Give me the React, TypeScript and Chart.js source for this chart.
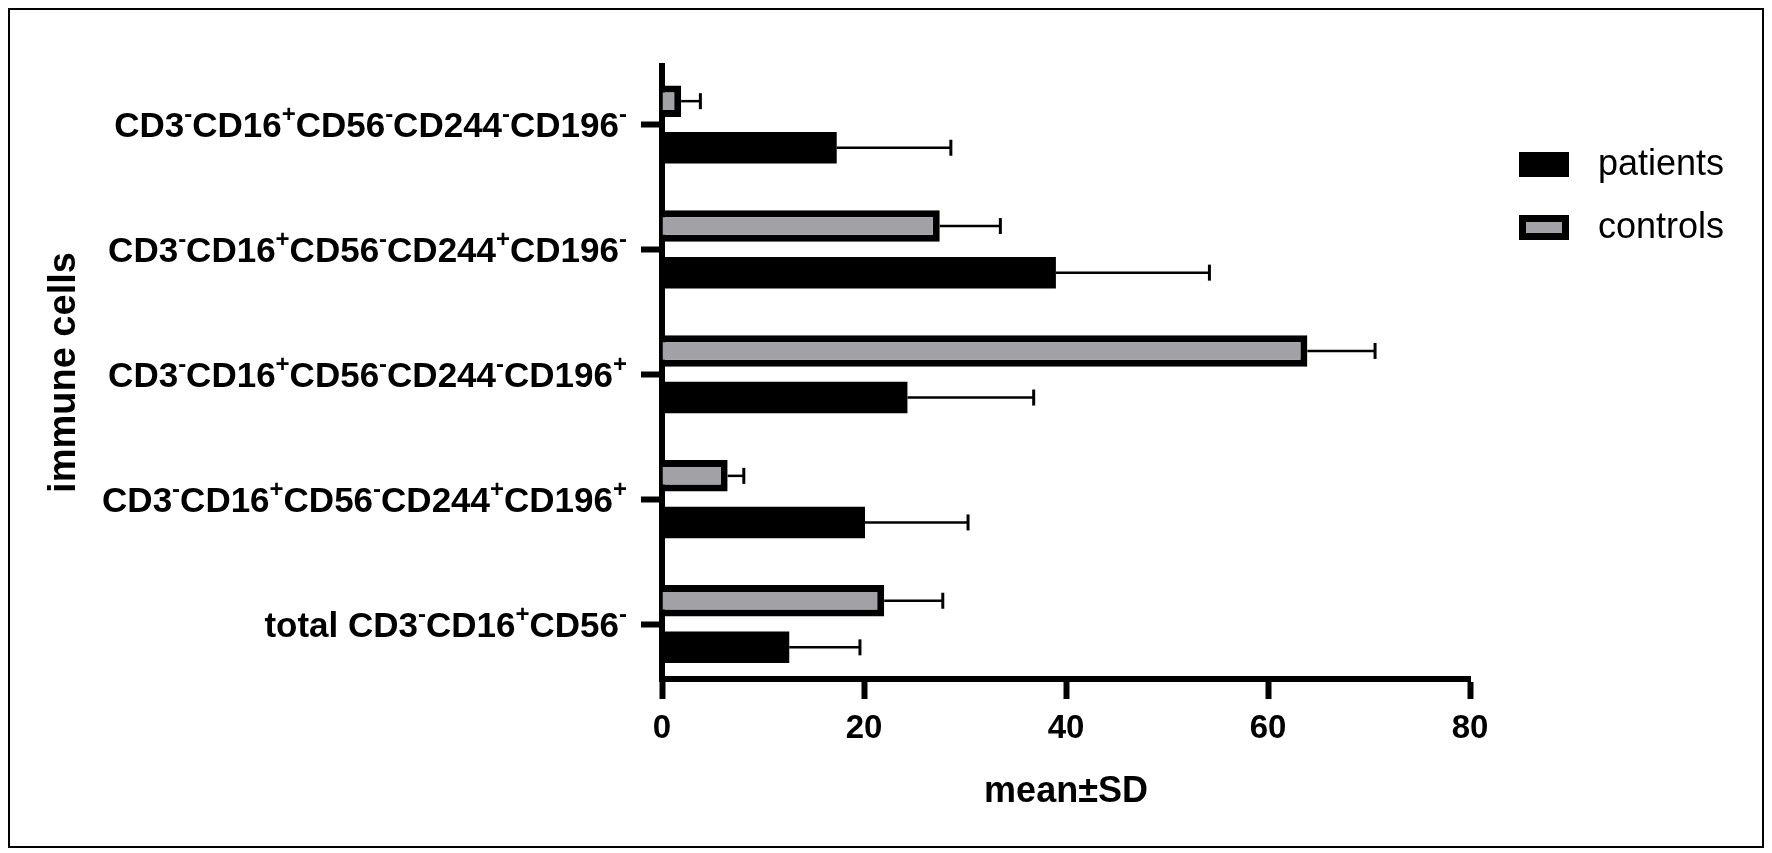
import React, { useEffect, useRef } from 'react';
import { Chart, registerables } from 'chart.js';
import type { Plugin } from 'chart.js';

Chart.register(...registerables);

// categories, top to bottom (superscripts kept as unicode)
const categories = [
  'CD3⁻CD16⁺CD56⁻CD244⁻CD196⁻',
  'CD3⁻CD16⁺CD56⁻CD244⁺CD196⁻',
  'CD3⁻CD16⁺CD56⁻CD244⁻CD196⁺',
  'CD3⁻CD16⁺CD56⁻CD244⁺CD196⁺',
  'total CD3⁻CD16⁺CD56⁻',
];
const patientsMean = [17.3, 39.0, 24.3, 20.1, 12.6];
const patientsSD = [11.3, 15.2, 12.5, 10.2, 7.0];
const controlsMean = [1.9, 27.5, 63.9, 6.5, 22.0];
const controlsSD = [1.9, 6.0, 6.7, 1.6, 5.8];
const xTicks = [0, 20, 40, 60, 80];

const FONT = "'Liberation Sans', Arial, Helvetica, sans-serif";
const GREY = '#a1a1a6';

const sdByDataset = [controlsSD, patientsSD];

// SD whiskers, only to the right of each bar
const errorBars: Plugin<'bar'> = {
  id: 'errorBars',
  afterDatasetsDraw(chart) {
    const { ctx } = chart;
    const x = chart.scales.x;
    ctx.save();
    ctx.strokeStyle = '#000';
    chart.data.datasets.forEach((ds, d) => {
      const meta = chart.getDatasetMeta(d);
      meta.data.forEach((el: any, i) => {
        const v = (ds.data[i] as any).x as number;
        const x0 = x.getPixelForValue(v);
        const x1 = x.getPixelForValue(v + sdByDataset[d][i]);
        ctx.lineWidth = 2.5;
        ctx.beginPath();
        ctx.moveTo(x0, el.y);
        ctx.lineTo(x1, el.y);
        ctx.stroke();
        ctx.lineWidth = 3;
        ctx.beginPath();
        ctx.moveTo(x1, el.y - 8);
        ctx.lineTo(x1, el.y + 8);
        ctx.stroke();
      });
    });
    ctx.restore();
  },
};

// y labels with real superscripts
const supLabels: Plugin<'bar'> = {
  id: 'supLabels',
  afterDraw(chart) {
    const { ctx } = chart;
    const y = chart.scales.y;
    const right = chart.chartArea.left - 35;
    const mainFont = `bold 35px ${FONT}`;
    const supFont = `bold 24px ${FONT}`;
    ctx.save();
    ctx.fillStyle = '#000';
    ctx.textBaseline = 'alphabetic';
    ctx.textAlign = 'left';
    categories.forEach((label, i) => {
      const runs: { t: string; sup: boolean }[] = [];
      for (const ch of label) {
        const sup = ch === '⁻' || ch === '⁺';
        const t = ch === '⁻' ? '-' : ch === '⁺' ? '+' : ch;
        const last = runs[runs.length - 1];
        if (last && last.sup === sup) last.t += t;
        else runs.push({ t, sup });
      }
      let w = 0;
      runs.forEach((r) => {
        ctx.font = r.sup ? supFont : mainFont;
        w += ctx.measureText(r.t).width;
      });
      const base = y.getPixelForValue(i) + 12.5;
      let cx = right - w;
      runs.forEach((r) => {
        ctx.font = r.sup ? supFont : mainFont;
        ctx.fillText(r.t, cx, r.sup ? base - 15 : base);
        cx += ctx.measureText(r.t).width;
      });
    });
    ctx.restore();
  },
};

// legend: patients first, then controls
const sideLegend: Plugin<'bar'> = {
  id: 'sideLegend',
  afterDraw(chart) {
    const { ctx, chartArea } = chart;
    const bx = chartArea.right + 49;
    const items = [
      { label: 'patients', fill: '#000', top: 142 },
      { label: 'controls', fill: GREY, top: 205 },
    ];
    ctx.save();
    items.forEach((it) => {
      ctx.fillStyle = '#000';
      ctx.fillRect(bx, it.top, 50, 25);
      if (it.fill !== '#000') {
        ctx.fillStyle = it.fill;
        ctx.fillRect(bx + 7, it.top + 7, 36, 11);
      }
      ctx.fillStyle = '#000';
      ctx.font = `36px ${FONT}`;
      ctx.textBaseline = 'middle';
      ctx.fillText(it.label, bx + 79, it.top + 13);
    });
    ctx.restore();
  },
};

const App: React.FC = () => {
  const canvasRef = useRef<HTMLCanvasElement>(null);
  const chartRef = useRef<Chart | null>(null);

  useEffect(() => {
    document.documentElement.style.overflow = 'hidden';
    if (!canvasRef.current) return;
    if (chartRef.current) chartRef.current.destroy();

    chartRef.current = new Chart(canvasRef.current, {
      type: 'bar',
      data: {
        datasets: [
          {
            label: 'controls',
            data: controlsMean.map((v, i) => ({ x: v, y: i })),
            backgroundColor: GREY,
            borderColor: '#000',
            borderWidth: 7,
            borderSkipped: 'start',
          },
          {
            label: 'patients',
            data: patientsMean.map((v, i) => ({ x: v, y: i })),
            backgroundColor: '#000',
            borderWidth: 0,
          },
        ],
      },
      options: {
        indexAxis: 'y',
        animation: false,
        responsive: true,
        maintainAspectRatio: false,
        categoryPercentage: 0.746,
        barPercentage: 0.676,
        layout: { padding: { top: 56, right: 292, left: 0, bottom: 0 } },
        plugins: { legend: { display: false }, tooltip: { enabled: false } },
        scales: {
          x: {
            type: 'linear',
            min: 0,
            max: 80,
            afterBuildTicks: (s) => {
              s.ticks = xTicks.map((v) => ({ value: v }));
            },
            afterFit: (s) => {
              s.height = 167;
            },
            grid: {
              drawOnChartArea: false,
              drawTicks: true,
              tickLength: 20,
              tickWidth: 6,
              tickColor: '#000',
            },
            border: { display: true, width: 6, color: '#000' },
            ticks: {
              color: '#000',
              padding: 10,
              font: { family: FONT, size: 33, weight: 'bold' },
            },
            title: {
              display: true,
              text: 'mean±SD',
              color: '#000',
              padding: { top: 0, bottom: 32 },
              font: { family: FONT, size: 36, weight: 'bold' },
            },
          },
          y: {
            type: 'linear',
            reverse: true,
            offset: false,
            min: -0.468,
            max: 4.44,
            z: 1,
            afterBuildTicks: (s) => {
              s.ticks = categories.map((_, i) => ({ value: i }));
            },
            afterFit: (s) => {
              s.width = 652;
            },
            grid: {
              offset: false,
              drawOnChartArea: false,
              drawTicks: true,
              tickLength: 21,
              tickWidth: 6,
              tickColor: '#000',
            },
            border: { display: true, width: 6, color: '#000' },
            ticks: { display: false },
            title: {
              display: true,
              text: 'immune cells',
              color: '#000',
              padding: { top: 32, bottom: 0 },
              font: { family: FONT, size: 38, weight: 'bold' },
            },
          },
        },
      },
      plugins: [errorBars, supLabels, sideLegend],
    });

    return () => {
      if (chartRef.current) {
        chartRef.current.destroy();
        chartRef.current = null;
      }
    };
  }, []);

  return (
    <div style={{ width: 1752, height: 836, border: '2px solid #000', position: 'relative', background: '#fff' }}>
      <canvas ref={canvasRef} />
    </div>
  );
};

export default App;
